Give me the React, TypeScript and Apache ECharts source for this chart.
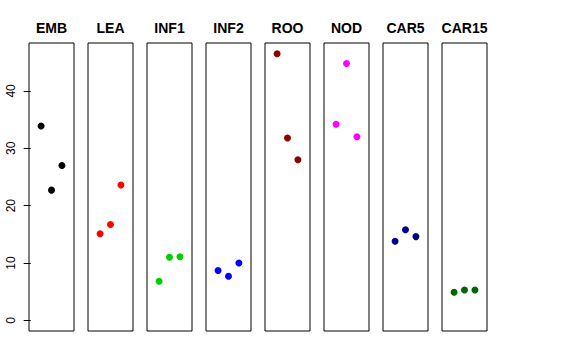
import React, { useEffect, useRef } from "react";
import * as echarts from "echarts";

const categories = ["EMB", "LEA", "INF1", "INF2", "ROO", "NOD", "CAR5", "CAR15"];
const colors = ["#000000", "#FF0000", "#00CD00", "#0000FF", "#8B0000", "#FF00FF", "#00008B", "#006400"];
const EMB = [33.9, 22.7, 27.0];
const LEA = [15.1, 16.7, 23.6];
const INF1 = [6.8, 11.0, 11.1];
const INF2 = [8.7, 7.7, 10.0];
const ROO = [46.5, 31.8, 28.0];
const NOD = [34.2, 44.8, 32.0];
const CAR5 = [13.8, 15.8, 14.6];
const CAR15 = [4.9, 5.3, 5.3];
const seriesValues = [EMB, LEA, INF1, INF2, ROO, NOD, CAR5, CAR15];
const yTicks = [0, 10, 20, 30, 40];
const xPositions = [1, 2, 3];

const FONT = "'Liberation Sans', Arial, Helvetica, sans-serif";

export default function App() {
  const ref = useRef<HTMLDivElement>(null);
  useEffect(() => {
    if (!ref.current) return;
    const chart = echarts.init(ref.current, null, { renderer: "svg" });
    const left0 = 29;
    const step = 59;
    const w = 45;
    const top = 43;
    const h = 288;
    const yMin = -1.86;
    const yMax = 48.36;
    const grids = categories.map((_, i) => ({
      left: left0 + step * i,
      top,
      width: w,
      height: h,
      show: true,
      borderColor: "#000",
      borderWidth: 1,
      backgroundColor: "transparent",
      containLabel: false,
    }));
    const xAxes = categories.map((_, i) => ({
      type: "value",
      gridIndex: i,
      min: -0.16,
      max: 4.16,
      show: false,
    }));
    const yAxes = categories.map((_, i) => ({
      type: "value",
      gridIndex: i,
      min: yMin,
      max: yMax,
      show: i === 0,
      splitLine: { show: false },
      axisLine: { show: false },
      axisTick: {
        show: i === 0,
        length: 7,
        customValues: yTicks,
        lineStyle: { color: "#000" },
      },
      axisLabel: {
        show: i === 0,
        rotate: 90,
        margin: 12,
        customValues: yTicks,
        color: "#000",
        fontSize: 12,
        fontFamily: FONT,
      },
    }));
    const titles = categories.map((c, i) => ({
      text: c,
      left: left0 + step * i + w / 2,
      top: 21,
      textAlign: "center",
      padding: 0,
      textStyle: { fontSize: 14, fontWeight: "bold", color: "#000", fontFamily: FONT },
    }));
    const series = seriesValues.map((vals, i) => ({
      type: "scatter",
      xAxisIndex: i,
      yAxisIndex: i,
      symbol: "circle",
      symbolSize: 7,
      itemStyle: { color: colors[i], opacity: 1 },
      data: vals.map((v, j) => [xPositions[j], v]),
    }));
    chart.setOption({
      animation: false,
      backgroundColor: "#fff",
      title: titles,
      grid: grids,
      xAxis: xAxes,
      yAxis: yAxes,
      series,
    });
    return () => chart.dispose();
  }, []);
  return (
    <div
      ref={ref}
      style={{ position: "absolute", left: 0, top: 0, width: 576, height: 360 }}
    />
  );
}
